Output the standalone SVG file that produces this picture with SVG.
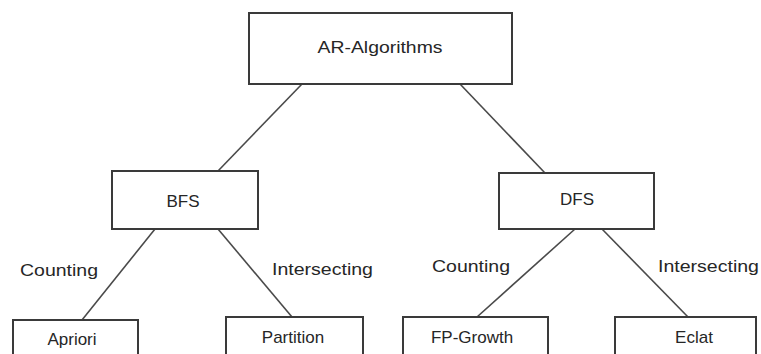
<svg xmlns="http://www.w3.org/2000/svg" width="761" height="354" viewBox="0 0 761 354">
<style>
.box{fill:#ffffff;stroke:#3a3a3a;stroke-width:2}
.edge{stroke:#4a4a4a;stroke-width:1.6;fill:none}
.t{font-family:"Liberation Sans",Arial,sans-serif;font-size:17px;fill:#262626;text-anchor:middle}
.l{font-family:"Liberation Sans",Arial,sans-serif;font-size:17px;fill:#262626}
</style>
<rect width="761" height="354" fill="#ffffff"/>
<g id="connectors">
<line class="edge" x1="302" y1="84" x2="218" y2="171"/>
<line class="edge" x1="460" y1="84" x2="545" y2="173"/>
<line class="edge" x1="155" y1="229" x2="82" y2="320"/>
<line class="edge" x1="218" y1="229" x2="292" y2="317"/>
<line class="edge" x1="575" y1="229" x2="477" y2="317"/>
<line class="edge" x1="602" y1="229" x2="688" y2="317"/>
<text class="l" x="20" y="276" textLength="78" lengthAdjust="spacingAndGlyphs">Counting</text>
<text class="l" x="272" y="275" textLength="101" lengthAdjust="spacingAndGlyphs">Intersecting</text>
<text class="l" x="432" y="272" textLength="78" lengthAdjust="spacingAndGlyphs">Counting</text>
<text class="l" x="658" y="272" textLength="101" lengthAdjust="spacingAndGlyphs">Intersecting</text>
</g>
<g id="ar-algorithms">
<rect class="box" x="249" y="13" width="263" height="71"/>
<text class="t" x="380" y="53" textLength="125" lengthAdjust="spacingAndGlyphs">AR-Algorithms</text>
</g>
<g id="bfs">
<rect class="box" x="112" y="171" width="146" height="58"/>
<text class="t" x="183" y="207">BFS</text>
</g>
<g id="dfs">
<rect class="box" x="499" y="173" width="155" height="56"/>
<text class="t" x="577" y="205">DFS</text>
</g>
<g id="apriori">
<rect class="box" x="13" y="320" width="125" height="50"/>
<text class="t" x="72" y="345">Apriori</text>
</g>
<g id="partition">
<rect class="box" x="226" y="317" width="137" height="50"/>
<text class="t" x="293" y="343">Partition</text>
</g>
<g id="fp-growth">
<rect class="box" x="403" y="317" width="145" height="50"/>
<text class="t" x="472" y="343">FP-Growth</text>
</g>
<g id="eclat">
<rect class="box" x="615" y="317" width="141" height="50"/>
<text class="t" x="694" y="343">Eclat</text>
</g>
</svg>
